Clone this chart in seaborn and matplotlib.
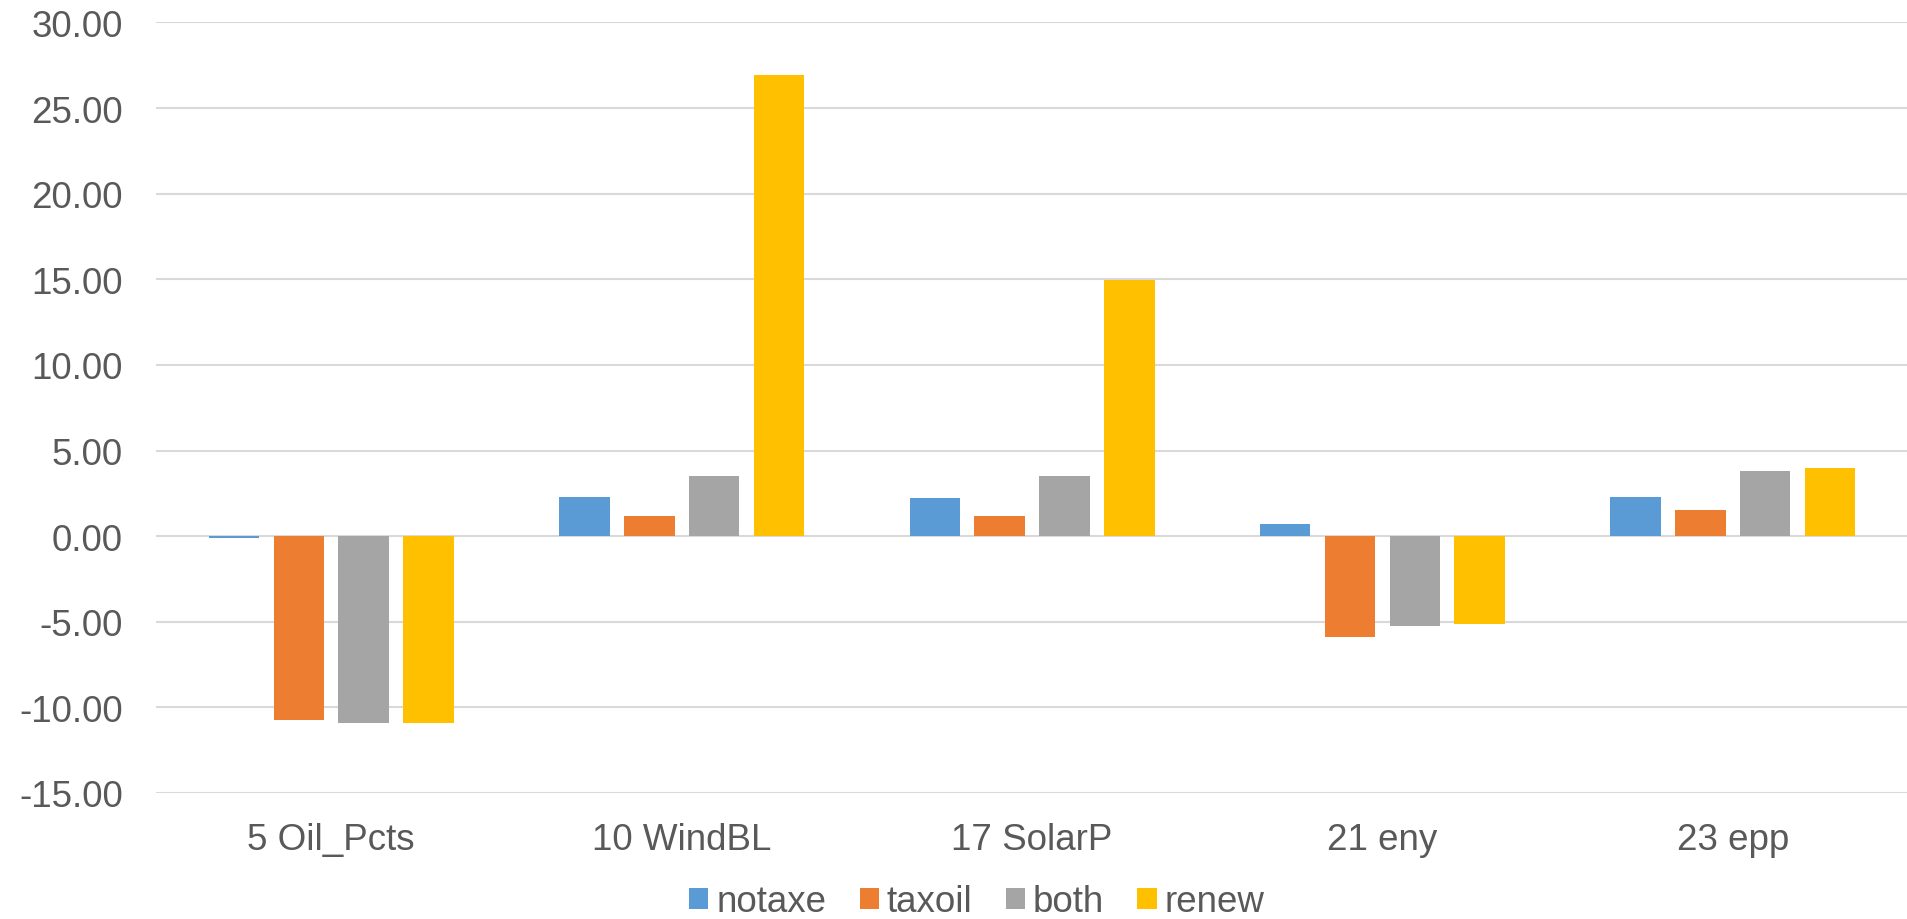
import matplotlib
matplotlib.use("Agg")
import matplotlib.pyplot as plt
import seaborn as sns
import pandas as pd

categories = ["5 Oil_Pcts", "10 WindBL", "17 SolarP", "21 eny", "23 epp"]
series = ["notaxe", "taxoil", "both", "renew"]
notaxe = [-0.12, 2.28, 2.24, 0.72, 2.26]
taxoil = [-10.76, 1.17, 1.19, -5.90, 1.54]
both = [-10.91, 3.49, 3.52, -5.22, 3.83]
renew = [-10.93, 26.91, 14.98, -5.12, 3.99]
yticks = [-15, -10, -5, 0, 5, 10, 15, 20, 25, 30]
colors = ["#5B9BD5", "#ED7D31", "#A5A5A5", "#FFC000"]

values = {"notaxe": notaxe, "taxoil": taxoil, "both": both, "renew": renew}
df = pd.DataFrame(
    [(c, s, values[s][i]) for i, c in enumerate(categories) for s in series],
    columns=["category", "series", "value"],
)

sns.set_theme(style="white")
plt.rcParams["font.family"] = ["Liberation Sans", "DejaVu Sans"]
text_color = "#595959"

fig = plt.figure(figsize=(19.08, 9.2), dpi=100)
ax = fig.add_axes([0.0818, 0.137, 0.9182, 0.8375])

sns.barplot(
    data=df, x="category", y="value", hue="series",
    order=categories, hue_order=series, palette=colors, saturation=1,
    width=0.74, gap=0.22, linewidth=0, ax=ax, zorder=3,
)

ax.set_ylim(-15, 30)
ax.set_yticks(yticks)
ax.set_yticklabels([f"{v:.2f}" for v in yticks])
ax.yaxis.grid(True, color="#D9D9D9", linewidth=1.5, zorder=0)
ax.set_axisbelow(True)
ax.tick_params(axis="y", length=0, pad=24, labelsize=26.5, labelcolor=text_color)
ax.tick_params(axis="x", length=0, pad=21, labelsize=26.5, labelcolor=text_color)
ax.set_xlabel("")
ax.set_ylabel("")
for sp in ax.spines.values():
    sp.set_visible(False)

handles, labels = ax.get_legend_handles_labels()
ax.get_legend().remove()
fig.legend(
    handles, labels, loc="center", bbox_to_anchor=(0.512, 0.0185), ncol=4,
    frameon=False, fontsize=26.5, labelcolor=text_color,
    handlelength=0.52, handleheight=0.52, handletextpad=0.22,
    columnspacing=0.9, borderpad=0,
)

fig.savefig("out.png", dpi=100)
